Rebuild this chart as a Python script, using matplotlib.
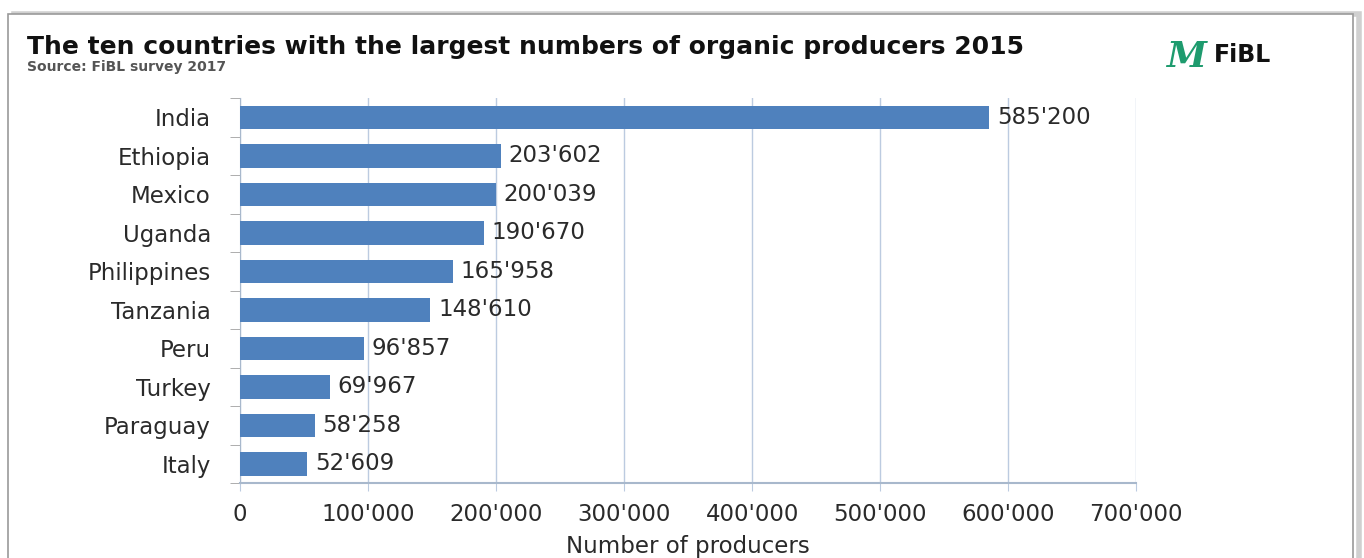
import matplotlib.pyplot as plt
from matplotlib.patches import Rectangle
from matplotlib.ticker import FuncFormatter, FixedLocator

countries = ["India", "Ethiopia", "Mexico", "Uganda", "Philippines",
             "Tanzania", "Peru", "Turkey", "Paraguay", "Italy"]
producers = [585200, 203602, 200039, 190670, 165958,
             148610, 96857, 69967, 58258, 52609]
x_ticks = [0, 100000, 200000, 300000, 400000, 500000, 600000, 700000]

plt.rcParams["font.family"] = ["DejaVu Sans"]

bar_color = "#4f81bd"
grid_color = "#bccbe0"
txt = "#2a2a2a"


def swiss(v, pos=None):
    return f"{int(v):,}".replace(",", "'")


fig = plt.figure(figsize=(13.64, 5.58), dpi=100)

# card frame with light shadow
fig.patches.append(Rectangle((0.010, -0.01), 0.986, 0.985, transform=fig.transFigure,
                             facecolor="none", edgecolor="#d0d0d0", lw=4, zorder=-2))
fig.patches.append(Rectangle((0.006, -0.01), 0.986, 0.985, transform=fig.transFigure,
                             facecolor="white", edgecolor="#9a9a9a", lw=1.2, zorder=-1))

ax = fig.add_axes([0.176, 0.134, 0.657, 0.690])
ax.set_zorder(2)
ax.patch.set_alpha(0)
y = list(range(len(countries)))
ax.barh(y, producers, height=0.62, color=bar_color, zorder=3)
ax.set_ylim(len(countries) - 0.5, -0.5)
ax.set_xlim(0, 700000)

ax.set_yticks(y)
ax.set_yticklabels(countries, fontsize=16.5, color=txt)
ax.yaxis.set_minor_locator(FixedLocator([i - 0.5 for i in range(len(countries) + 1)]))
ax.tick_params(axis="y", which="major", length=0, pad=21)
ax.tick_params(axis="y", which="minor", length=7, color="#a0a0a0", direction="out")

ax.set_xticks(x_ticks)
ax.xaxis.set_major_formatter(FuncFormatter(swiss))
ax.tick_params(axis="x", length=6, color=grid_color, direction="out", pad=8,
               labelsize=16.5, labelcolor=txt)
ax.grid(axis="x", color=grid_color, lw=1, zorder=0)

for s in ["top", "right"]:
    ax.spines[s].set_visible(False)
ax.spines["left"].set_color("#a8b8cc")
ax.spines["bottom"].set_color("#a8b8cc")
ax.spines["bottom"].set_linewidth(1.5)

for yi, v in zip(y, producers):
    ax.text(v + 6000, yi, swiss(v), va="center", ha="left", fontsize=16.5,
            color=txt, zorder=4)

ax.set_xlabel("Number of producers", fontsize=16.5, color=txt, labelpad=7)

fig.text(0.020, 0.903, "The ten countries with the largest numbers of organic producers 2015",
         fontsize=18, fontweight="bold", color="#111111")
fig.text(0.020, 0.872, "Source: FiBL survey 2017", fontsize=10, fontweight="bold",
         color="#555555")

# FiBL logo
fig.text(0.855, 0.880, "M", fontsize=26, fontstyle="italic", fontweight="bold",
         color="#1e9b6e", family=["DejaVu Serif"])
fig.text(0.890, 0.888, "FiBL", fontsize=17, fontweight="bold", color="#111111")

fig.savefig("out.png", dpi=100, facecolor="white")
